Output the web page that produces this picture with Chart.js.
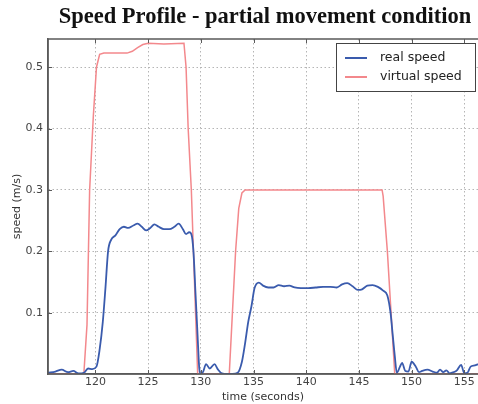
<!DOCTYPE html>
<html>
<head>
<meta charset="utf-8">
<script src="https://cdn.jsdelivr.net/npm/chart.js@4"></script>
<style>
  html, body { margin: 0; padding: 0; background: #fff; }
  #wrap { width: 478px; height: 404px; }
</style>
</head>
<body>
<div id="wrap"><canvas id="speedChart"></canvas></div>
<script>
// values
const realTime = [115.5, 116.2, 116.8, 117.4, 117.9, 118.4, 118.9, 119.3, 119.7, 120.1, 120.4, 120.7, 120.95, 121.2, 121.5, 121.9, 122.3, 122.7, 123.1, 123.6, 124.0, 124.4, 124.8, 125.2, 125.6, 126.0, 126.5, 127.0, 127.5, 127.9, 128.3, 128.6, 128.9, 129.1, 129.3, 129.5, 129.7, 129.85, 130.0, 130.2, 130.5, 130.85, 131.3, 131.6, 132.0, 132.5, 133.0, 133.5, 133.9, 134.2, 134.5, 134.8, 135.1, 135.5, 135.9, 136.4, 136.9, 137.4, 137.9, 138.4, 138.9, 139.5, 140.2, 140.9, 141.6, 142.3, 142.9, 143.4, 143.9, 144.4, 144.9, 145.3, 145.8, 146.3, 146.8, 147.3, 147.7, 148.0, 148.2, 148.4, 148.6, 148.9, 149.1, 149.4, 149.7, 150.0, 150.4, 150.7, 151.0, 151.5, 152.0, 152.4, 152.7, 153.0, 153.3, 153.6, 154.0, 154.3, 154.7, 155.0, 155.3, 155.6, 156.0, 156.3]
const realSpeed = [0.002, 0.004, 0.007, 0.003, 0.005, 0.001, 0.002, 0.009, 0.008, 0.012, 0.04, 0.085, 0.14, 0.2, 0.219, 0.226, 0.236, 0.24, 0.238, 0.242, 0.245, 0.24, 0.234, 0.238, 0.244, 0.24, 0.236, 0.236, 0.24, 0.245, 0.236, 0.228, 0.231, 0.228, 0.2, 0.13, 0.06, 0.01, 0.0, 0.003, 0.016, 0.009, 0.016, 0.008, 0.001, 0.0, 0.0, 0.002, 0.02, 0.05, 0.085, 0.11, 0.14, 0.149, 0.144, 0.141, 0.141, 0.145, 0.143, 0.144, 0.141, 0.14, 0.14, 0.141, 0.142, 0.142, 0.141, 0.146, 0.148, 0.143, 0.137, 0.138, 0.144, 0.145, 0.142, 0.136, 0.128, 0.1, 0.065, 0.03, 0.002, 0.012, 0.018, 0.005, 0.004, 0.02, 0.012, 0.003, 0.005, 0.007, 0.004, 0.002, 0.007, 0.003, 0.006, 0.001, 0.003, 0.006, 0.015, 0.001, 0.002, 0.012, 0.014, 0.016]

const virtualTime = [115.5, 118.9, 119.2, 119.45, 119.8, 120.1, 120.4, 120.8, 123.0, 123.5, 124.0, 124.5, 125.0, 126.5, 128.4, 128.6, 128.8, 129.1, 129.3, 129.5, 129.7, 132.7, 133.0, 133.3, 133.6, 133.9, 134.2, 140.0, 147.2, 147.3, 147.7, 148.05, 148.4, 156.3]
const virtualSpeed = [0, 0, 0.08, 0.3, 0.42, 0.5, 0.521, 0.523, 0.523, 0.526, 0.532, 0.537, 0.539, 0.538, 0.539, 0.5, 0.4, 0.3, 0.2, 0.1, 0, 0, 0.1, 0.2, 0.27, 0.295, 0.3, 0.3, 0.3, 0.29, 0.2, 0.1, 0, 0]

const xTicks = [120, 125, 130, 135, 140, 145, 150, 155]
const yTicks = [0.1, 0.2, 0.3, 0.4, 0.5]

const toPoints = (xs, ys) => xs.map((x, i) => ({ x: x, y: ys[i] }))

const frameColor = '#5a5a5a'
const tickFont = { family: 'DejaVu Sans', size: 11 }

// title, solid frame, inner tick marks and the boxed legend
const decorations = {
    id: 'decorations',
    afterDraw(chart) {
        const ctx = chart.ctx
        const a = chart.chartArea
        const xs = chart.scales.x
        const ys = chart.scales.y
        ctx.save()

        ctx.fillStyle = '#111'
        ctx.font = 'bold 22.5px "Liberation Serif"'
        ctx.textAlign = 'center'
        ctx.textBaseline = 'middle'
        ctx.fillText('Speed Profile - partial movement condition', 265, 17)

        ctx.strokeStyle = frameColor
        ctx.lineWidth = 1.5
        ctx.setLineDash([])
        ctx.beginPath()
        ctx.moveTo(a.right, a.top)
        ctx.lineTo(a.left, a.top)
        ctx.lineTo(a.left, a.bottom)
        ctx.lineTo(a.right, a.bottom)
        ctx.stroke()

        ctx.lineWidth = 1
        ctx.beginPath()
        xTicks.forEach(t => {
            const px = Math.round(xs.getPixelForValue(t)) + 0.5
            ctx.moveTo(px, a.top); ctx.lineTo(px, a.top + 4)
            ctx.moveTo(px, a.bottom); ctx.lineTo(px, a.bottom - 4)
        })
        yTicks.forEach(t => {
            const py = Math.round(ys.getPixelForValue(t)) + 0.5
            ctx.moveTo(a.left, py); ctx.lineTo(a.left + 4, py)
        })
        ctx.stroke()

        // legend
        const bx = 336, by = 43, bw = 139, bh = 48
        ctx.fillStyle = '#fff'
        ctx.fillRect(bx, by, bw, bh)
        ctx.strokeStyle = '#444'
        ctx.lineWidth = 1
        ctx.strokeRect(bx + 0.5, by + 0.5, bw, bh)
        ctx.font = '12.5px "DejaVu Sans"'
        ctx.textAlign = 'left'
        ctx.textBaseline = 'middle'
        chart.data.datasets.forEach((ds, i) => {
            const y = by + 15 + i * 19
            ctx.strokeStyle = ds.borderColor
            ctx.lineWidth = 2
            ctx.beginPath()
            ctx.moveTo(bx + 9, y)
            ctx.lineTo(bx + 31, y)
            ctx.stroke()
            ctx.fillStyle = '#222'
            ctx.fillText(ds.label, bx + 44, y)
        })
        ctx.restore()
    }
}

new Chart(document.getElementById('speedChart'), {
    type: 'line',
    data: {
        datasets: [{
            label: 'real speed',
            data: toPoints(realTime, realSpeed),
            borderColor: '#3a5bad',
            borderWidth: 1.8,
            pointRadius: 0,
            cubicInterpolationMode: 'monotone'
        }, {
            label: 'virtual speed',
            data: toPoints(virtualTime, virtualSpeed),
            borderColor: '#f3888c',
            borderWidth: 1.5,
            pointRadius: 0,
            tension: 0
        }]
    },
    options: {
        responsive: true,
        maintainAspectRatio: false,
        animation: false,
        layout: { padding: { top: 39, left: 0, right: 0, bottom: 0 } },
        plugins: {
            legend: { display: false },
            tooltip: { enabled: false }
        },
        scales: {
            x: {
                type: 'linear',
                min: 115.5,
                max: 156.3,
                afterBuildTicks: s => { s.ticks = xTicks.map(v => ({ value: v })) },
                afterFit: s => { s.height = 30 },
                ticks: { color: '#444', font: tickFont, padding: 2, maxRotation: 0 },
                grid: { color: '#b5b5b5', drawTicks: false },
                border: { color: frameColor, width: 1.5, dash: [1.5, 2.5] },
                title: { display: true, text: 'time (seconds)', color: '#333', font: tickFont, padding: { top: 2, bottom: 0 } }
            },
            y: {
                min: 0,
                max: 0.546,
                afterBuildTicks: s => { s.ticks = yTicks.map(v => ({ value: v })) },
                afterFit: s => { s.width = 48 },
                ticks: { color: '#444', font: tickFont, padding: 5, callback: v => v.toFixed(1) },
                grid: { color: '#b5b5b5', drawTicks: false },
                border: { color: frameColor, width: 1.5, dash: [1.5, 2.5] },
                title: { display: true, text: 'speed (m/s)', color: '#333', font: tickFont, padding: { top: 11, bottom: 0 } }
            }
        }
    },
    plugins: [decorations]
});
</script>
</body>
</html>
